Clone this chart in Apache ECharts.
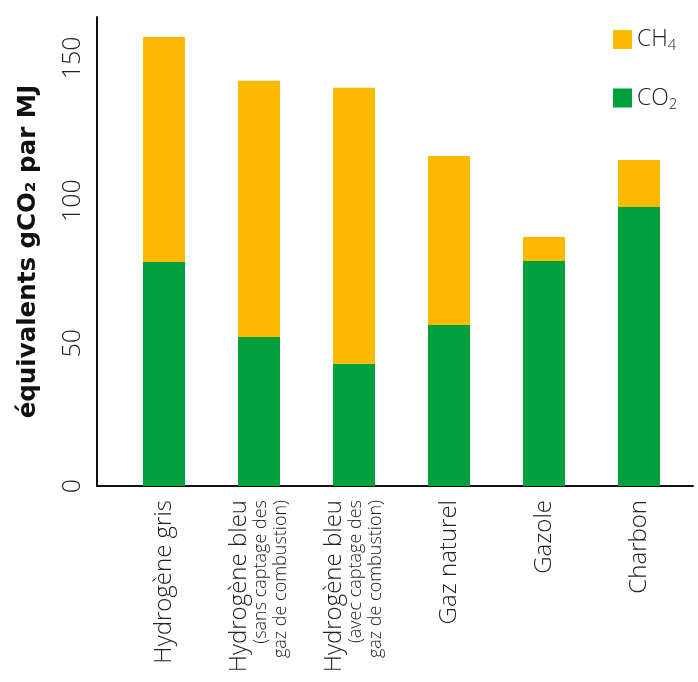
<!DOCTYPE html>
<html><head><meta charset="utf-8">
<script src="https://cdn.jsdelivr.net/npm/echarts@6/dist/echarts.min.js"></script>
<style>html,body{margin:0;padding:0;background:#fff}#c{width:698px;height:682px}</style>
</head><body><div id="c"></div>
<script>
const categories = [
  'Hydrogène gris',
  'Hydrogène bleu\n{s|(sans captage des}\n{s|gaz de combustion)}',
  'Hydrogène bleu\n{s|(avec captage des}\n{s|gaz de combustion)}',
  'Gaz naturel',
  'Gazole',
  'Charbon'
];
const co2Values = [78.5, 52.2, 42.8, 56.4, 78.8, 97.7];
const ch4Values = [78.8, 89.8, 96.7, 59.2, 8.4, 16.5];
const yTicks = [0, 50, 100, 150];
const yMax = 164.3;

const FONT = 'Open Sans';
const chart = echarts.init(document.getElementById('c'));
chart.setOption({
  animation: false,
  backgroundColor: '#fff',
  grid: [
    {left: 97, right: 5, top: 17, bottom: 196},
    {left: 116.5, width: 570, top: 17, bottom: 196}
  ],
  legend: {
    data: ['CH4', 'CO2'],
    orient: 'vertical',
    left: 608, top: 23,
    icon: 'rect', itemWidth: 19, itemHeight: 19, itemGap: 33,
    formatter: n => n === 'CH4' ? 'CH{sub|4}' : 'CO{sub|2}',
    textStyle: {
      fontFamily: FONT, fontSize: 23, fontWeight: 300, color: '#222',
      rich: {sub: {fontFamily: FONT, fontSize: 15, fontWeight: 300, color: '#222', verticalAlign: 'bottom', padding: [13, 0, 0, 0]}}
    }
  },
  xAxis: [
    {type: 'value', gridIndex: 0, min: 0, max: 1, axisLine: {show: true, lineStyle: {color: '#111', width: 2}},
     axisTick: {show: false}, axisLabel: {show: false}, splitLine: {show: false}},
    {type: 'category', gridIndex: 1, data: categories, axisLine: {show: false}, axisTick: {show: false},
     axisLabel: {rotate: 90, margin: 14, interval: 0, fontFamily: FONT, fontSize: 24, fontWeight: 300, color: '#222', lineHeight: 24,
       rich: {s: {fontFamily: FONT, fontSize: 18, fontWeight: 300, color: '#222', lineHeight: 20}}}}
  ],
  yAxis: [
    {type: 'value', gridIndex: 0, min: 0, max: yMax, interval: 50,
     name: 'équivalents gCO₂ par MJ', nameLocation: 'middle', nameGap: 56, nameRotate: 90,
     nameTextStyle: {fontFamily: 'DejaVu Sans', fontWeight: 'bold', fontSize: 24.5, color: '#111'},
     axisLine: {show: true, lineStyle: {color: '#111', width: 2}}, axisTick: {show: false},
     axisLabel: {rotate: 90, margin: 12, showMaxLabel: false, fontFamily: FONT, fontSize: 25, fontWeight: 300, color: '#222',
       formatter: v => yTicks.includes(v) ? String(v) : ''},
     splitLine: {show: false}},
    {type: 'value', gridIndex: 1, min: 0, max: yMax, show: false, splitLine: {show: false}}
  ],
  series: [
    {name: 'CO2', type: 'bar', stack: 'tot', xAxisIndex: 1, yAxisIndex: 1, barWidth: 42,
     itemStyle: {color: '#00A03C'}, data: co2Values},
    {name: 'CH4', type: 'bar', stack: 'tot', xAxisIndex: 1, yAxisIndex: 1, barWidth: 42,
     itemStyle: {color: '#FBB900'}, data: ch4Values}
  ]
});
</script></body></html>
